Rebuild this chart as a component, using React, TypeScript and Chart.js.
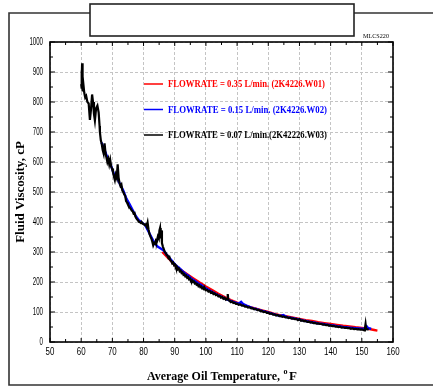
import React, { useEffect, useRef } from "react";
import { Chart, registerables } from "chart.js";

Chart.register(...registerables);

// ---- data ----
const blackX = [60.0, 60.1, 60.15, 60.25, 60.3, 60.4, 60.5, 60.7, 61.0, 61.3, 61.6, 62.0, 62.4, 62.8, 63.1, 63.5, 63.8, 64.1, 64.4, 64.8, 65.2, 65.6, 65.9,
  66.0, 66.3, 66.6, 66.9, 67.2, 67.5, 67.8, 68.1, 68.4, 68.7, 69.0, 69.3, 69.6, 69.9, 70.2, 70.5, 70.8, 71.1, 71.4, 71.7, 72.0, 72.3, 72.6, 72.9, 73.2, 73.5, 73.8, 74.1, 74.4, 74.7, 75.0, 75.3, 75.6, 75.9, 76.2, 76.5, 76.8, 77.1, 77.4, 77.7, 78.0, 78.3, 78.6, 78.9, 79.2, 79.5, 79.8, 80.1, 80.4, 80.7, 81.0, 81.3, 81.6, 81.9, 82.2, 82.5, 82.8, 83.1, 83.4, 83.7, 84.0, 84.3, 84.6, 84.9, 85.1, 85.3, 85.5, 85.7, 85.9, 86.2, 86.5, 86.8, 87.1, 87.4, 87.7, 88.0, 88.3, 88.6, 88.9, 89.2, 89.5, 89.8, 90.1, 90.4, 90.7, 91.0, 91.3, 91.6, 91.9, 92.2, 92.5, 92.8, 93.1, 93.4, 93.7, 94.0, 94.3, 94.6, 94.9, 95.2, 95.5, 95.8, 96.1, 96.4, 96.7, 97.0, 97.3, 97.6, 97.9, 98.2, 98.5, 98.8, 99.1, 99.4, 99.7,
  100.0, 100.4, 100.8, 101.2, 101.6, 102.0, 102.4, 102.8, 103.2, 103.6, 104.0, 104.4, 104.8, 105.2, 105.6, 106.0, 106.4, 106.8, 107.0, 107.2, 107.6, 108.0, 108.4, 108.8, 109.2, 109.6, 110.0, 110.5, 111.0, 111.5, 112.0, 112.5, 113.0, 113.5, 114.0, 114.5, 115.0, 115.5, 116.0, 116.5, 117.0, 117.5, 118.0, 118.5, 119.0, 119.5, 120.0, 120.5, 121.0, 121.5, 122.0, 122.5, 123.0, 123.5, 124.0, 124.5, 125.0, 125.5, 126.0, 126.5, 127.0, 127.5, 128.0, 128.5, 129.0, 129.5, 130.0, 130.5, 131.0, 131.5, 132.0, 132.5, 133.0, 133.5, 134.0, 134.5, 135.0, 135.5, 136.0, 136.5, 137.0, 137.5, 138.0, 138.5, 139.0, 139.5, 140.0, 140.5, 141.0, 141.5, 142.0, 142.5, 143.0, 143.5, 144.0, 144.5, 145.0, 145.5, 146.0, 146.5, 147.0, 147.5, 148.0, 148.5, 149.0, 149.5, 150.0, 150.5, 150.8, 151.0, 151.2, 151.4, 151.8, 152.2];
const blackY = [860, 905, 845, 880, 929, 870, 835, 860, 830, 815, 820, 800, 795, 740, 770, 825, 800, 760, 738, 780, 788, 765, 720,
  700, 672, 660, 640, 628, 662, 630, 615, 600, 610, 592, 607, 585, 578, 566, 552, 540, 558, 548, 592, 548, 530, 520, 525, 505, 500, 492, 488, 470, 465, 458, 452, 448, 444, 438, 436, 428, 430, 418, 412, 408, 404, 400, 399, 396, 398, 394, 393, 390, 392, 385, 398, 375, 360, 352, 345, 335, 322, 330, 328, 340, 338, 352, 345, 372, 380, 345, 372, 330, 318, 310, 300, 297, 290, 288, 280, 283, 272, 270, 262, 265, 256, 258, 248, 250, 242, 245, 236, 238, 230, 232, 224, 226, 219, 221, 214, 216, 209, 211, 204, 206, 200, 202, 195, 197, 191, 193, 186, 189, 183, 185, 179, 181, 175, 178,
  172, 174, 168, 170, 164, 166, 160, 162, 156, 158, 152, 154, 148, 150, 144, 147, 141, 144, 160, 140, 137, 133, 135, 130, 131, 127, 128, 124, 125, 121, 122, 118, 119, 115, 116, 112, 113, 109, 110, 106, 107, 103, 104, 100, 101, 97, 98, 94, 95, 91, 92, 88, 90, 86, 87, 84, 85, 82, 83, 80, 81, 78, 79, 76, 77, 73, 76, 71, 72, 69, 70, 67, 68, 65, 66, 63, 64, 61, 62, 60, 60, 58, 59, 56, 57, 54, 55, 53, 54, 51, 52, 50, 51, 48, 49, 47, 48, 46, 46, 44, 45, 43, 44, 42, 43, 41, 42, 40, 39, 46, 60, 43, 42, 43];

const blueX = [66.5, 67.5, 68.5, 69.5, 70.5, 71.5, 72.5, 73.5, 74.5, 75.5, 76.5, 77.5, 78.5, 79.5, 80.5, 81.5, 82.5, 83.5, 84.5, 85.5, 86.5, 87.5, 88.5, 89.5, 90.5, 91.5, 92.5, 93.5, 94.5, 95.5, 96.5, 97.5, 98.5, 99.5, 100.5, 101.5, 102.5, 103.5, 104.5, 105.5, 106.5, 107.5, 108.5, 109.5, 110.5, 111.3, 112, 113, 114, 115, 116, 117, 118, 119, 120, 121, 122, 123, 124, 124.8, 125.5, 126, 127, 128, 129, 130, 131, 132, 133, 134, 135, 136, 137, 138, 139, 140, 141, 142, 143, 144, 145, 146, 147, 148, 149, 150, 151, 151.6, 152, 152.5, 153];
const blueY = [665, 640, 612, 590, 560, 548, 525, 505, 478, 460, 440, 420, 406, 398, 390, 370, 350, 330, 318, 312, 305, 290, 278, 266, 254, 246, 236, 227, 220, 210, 203, 196, 190, 182, 176, 170, 164, 158, 153, 148, 143, 139, 135, 131, 128, 134, 126, 121, 117, 113, 110, 107, 104, 101, 98, 95, 92, 89, 87, 90, 86, 83, 81, 79, 77, 75, 72, 70, 68, 66, 64, 62, 61, 59, 58, 56, 55, 53, 52, 50, 49, 48, 47, 46, 45, 44, 44, 52, 47, 45, 44];

const redX = [86, 88, 90, 92, 94, 96, 98, 100, 102, 104, 106, 108, 110, 112, 114, 116, 118, 120, 122, 124, 126, 128, 130, 132, 134, 136, 138, 140, 142, 144, 146, 148, 150, 152, 154, 155];
const redY = [300, 279, 256, 240, 226, 212, 198, 185, 173, 161, 150, 140, 131, 124, 117, 111, 105, 100, 94, 89, 85, 81, 77, 73, 70, 66, 63, 60, 57, 54, 52, 49, 47, 44, 40, 38];

const legendLabels = [
  "FLOWRATE = 0.35 L/min. (2K4226.W01)",
  "FLOWRATE = 0.15 L/min. (2K4226.W02)",
  "FLOWRATE = 0.07 L/min.(2K42226.W03)",
];
const legendColors = ["#ff0000", "#0000ff", "#000000"];
const xMin = 50, xMax = 160, xStep = 10;
const yMin = 0, yMax = 1000, yStep = 100;
const xTitle = "Average Oil Temperature,";
const xTitleSup = "o";
const xTitleUnit = "F";
const yTitle = "Fluid Viscosity, cP";
const cornerTag = "MLCS220";

const pts = (xs: number[], ys: number[]) => xs.map((x, i) => ({ x, y: ys[i] }));

const decor = {
  id: "decor",
  beforeDraw(chart: any) {
    const ctx = chart.ctx;
    ctx.save();
    ctx.fillStyle = "#fff";
    ctx.fillRect(0, 0, chart.width, chart.height);
    ctx.restore();
  },
  afterDraw(chart: any) {
    const ctx = chart.ctx;
    const a = chart.chartArea;
    const xs = chart.scales.x;
    const ys = chart.scales.y;
    ctx.save();

    // outer frame
    ctx.strokeStyle = "#333";
    ctx.lineWidth = 1.6;
    ctx.beginPath();
    ctx.moveTo(chart.width + 2, 13);
    ctx.lineTo(9, 13);
    ctx.lineTo(9, 385);
    ctx.lineTo(chart.width + 2, 385);
    ctx.stroke();

    // title box
    ctx.fillStyle = "#fff";
    ctx.fillRect(90, 4, 264, 32);
    ctx.strokeStyle = "#222";
    ctx.lineWidth = 1.6;
    ctx.strokeRect(90, 4, 264, 32);

    // plot frame
    ctx.strokeStyle = "#000";
    ctx.lineWidth = 1.6;
    ctx.strokeRect(a.left, a.top, a.right - a.left, a.bottom - a.top);

    // tick marks (inward, all four sides)
    ctx.lineWidth = 1;
    const seg = (x1: number, y1: number, x2: number, y2: number) => {
      ctx.beginPath();
      ctx.moveTo(x1, y1);
      ctx.lineTo(x2, y2);
      ctx.stroke();
    };
    xs.ticks.forEach((t: any, i: number) => {
      const p = xs.getPixelForValue(t.value);
      seg(p, a.bottom, p, a.bottom - 4);
      seg(p, a.top, p, a.top + 4);
      if (i < xs.ticks.length - 1) {
        const m = xs.getPixelForValue((t.value + xs.ticks[i + 1].value) / 2);
        seg(m, a.bottom, m, a.bottom - 3);
        seg(m, a.top, m, a.top + 3);
      }
    });
    ys.ticks.forEach((t: any, i: number) => {
      const p = ys.getPixelForValue(t.value);
      seg(a.left, p, a.left + 5, p);
      seg(a.right, p, a.right - 5, p);
      if (i < ys.ticks.length - 1) {
        const m = ys.getPixelForValue((t.value + ys.ticks[i + 1].value) / 2);
        seg(a.left, m, a.left + 3, m);
        seg(a.right, m, a.right - 3, m);
      }
    });

    // tick labels
    ctx.fillStyle = "#000";
    ctx.font = '10px "Liberation Sans"';
    ctx.textAlign = "center";
    ctx.textBaseline = "middle";
    xs.ticks.forEach((t: any) => {
      const p = xs.getPixelForValue(t.value);
      const s = String(t.value);
      ctx.fillText(s, p, a.bottom + 10.5, s.length * 4.4);
    });
    ctx.textAlign = "right";
    ys.ticks.forEach((t: any) => {
      const p = ys.getPixelForValue(t.value);
      const s = String(t.value);
      ctx.fillText(s, a.left - 7, p, s.length * 3.4);
    });

    // axis titles
    ctx.font = 'bold 13px "Liberation Serif"';
    ctx.textAlign = "left";
    ctx.textBaseline = "alphabetic";
    ctx.fillText(xTitle, 147, 380, 133);
    ctx.font = 'bold 8px "Liberation Serif"';
    ctx.fillText(xTitleSup, 283.5, 374, 6);
    ctx.font = 'bold 13px "Liberation Serif"';
    ctx.fillText(xTitleUnit, 289, 380, 8);

    ctx.save();
    ctx.translate(24, 192);
    ctx.rotate(-Math.PI / 2);
    ctx.textAlign = "center";
    ctx.fillText(yTitle, 0, 0, 130);
    ctx.restore();

    // corner tag
    ctx.font = '6.5px "Liberation Serif"';
    ctx.textAlign = "left";
    ctx.textBaseline = "middle";
    ctx.fillText(cornerTag, 363, 36.5, 26);

    // legend
    const rows = [a.top + 42, a.top + 67.5, a.top + 93];
    const widths = [157, 159, 159];
    legendLabels.forEach((lab, i) => {
      ctx.strokeStyle = legendColors[i];
      ctx.lineWidth = 1.5;
      seg(a.left + 94, rows[i], a.left + 113, rows[i]);
      ctx.fillStyle = legendColors[i];
      ctx.font = 'bold 10px "Liberation Serif"';
      ctx.textAlign = "left";
      ctx.textBaseline = "middle";
      ctx.fillText(lab, a.left + 118, rows[i] + 0.5, widths[i]);
    });

    ctx.restore();
  },
};

export default function App() {
  const ref = useRef<HTMLCanvasElement>(null);
  useEffect(() => {
    if (!ref.current) return;
    const chart = new Chart(ref.current, {
      type: "line",
      data: {
        datasets: [
          { label: legendLabels[2], data: pts(blackX, blackY), borderColor: "#000", borderWidth: 2.2, pointRadius: 0, order: 0 },
          { label: legendLabels[1], data: pts(blueX, blueY), borderColor: "#0000ff", borderWidth: 2.4, pointRadius: 0, order: 1 },
          { label: legendLabels[0], data: pts(redX, redY), borderColor: "#ff0000", borderWidth: 2.4, pointRadius: 0, order: 2 },
        ],
      },
      options: {
        animation: false,
        responsive: false,
        layout: { padding: { left: 0, top: 42, right: 40, bottom: 0 } },
        plugins: { legend: { display: false }, tooltip: { enabled: false }, title: { display: false } },
        elements: { line: { tension: 0 } },
        scales: {
          x: {
            type: "linear",
            min: xMin,
            max: xMax,
            ticks: { stepSize: xStep, display: false },
            grid: { color: "#c4c4c4", lineWidth: 1, drawTicks: false },
            border: { display: false, dash: [3, 2] },
            afterFit: (s: any) => { s.height = 45; },
          },
          y: {
            type: "linear",
            min: yMin,
            max: yMax,
            ticks: { stepSize: yStep, display: false },
            grid: { color: "#c4c4c4", lineWidth: 1, drawTicks: false },
            border: { display: false, dash: [3, 2] },
            afterFit: (s: any) => { s.width = 50; },
          },
        },
      },
      plugins: [decor],
    });
    return () => chart.destroy();
  }, []);
  return (
    <div style={{ position: "absolute", left: 0, top: 0, width: 433, height: 387 }}>
      <canvas ref={ref} width={433} height={387} style={{ width: 433, height: 387, display: "block" }} />
    </div>
  );
}
